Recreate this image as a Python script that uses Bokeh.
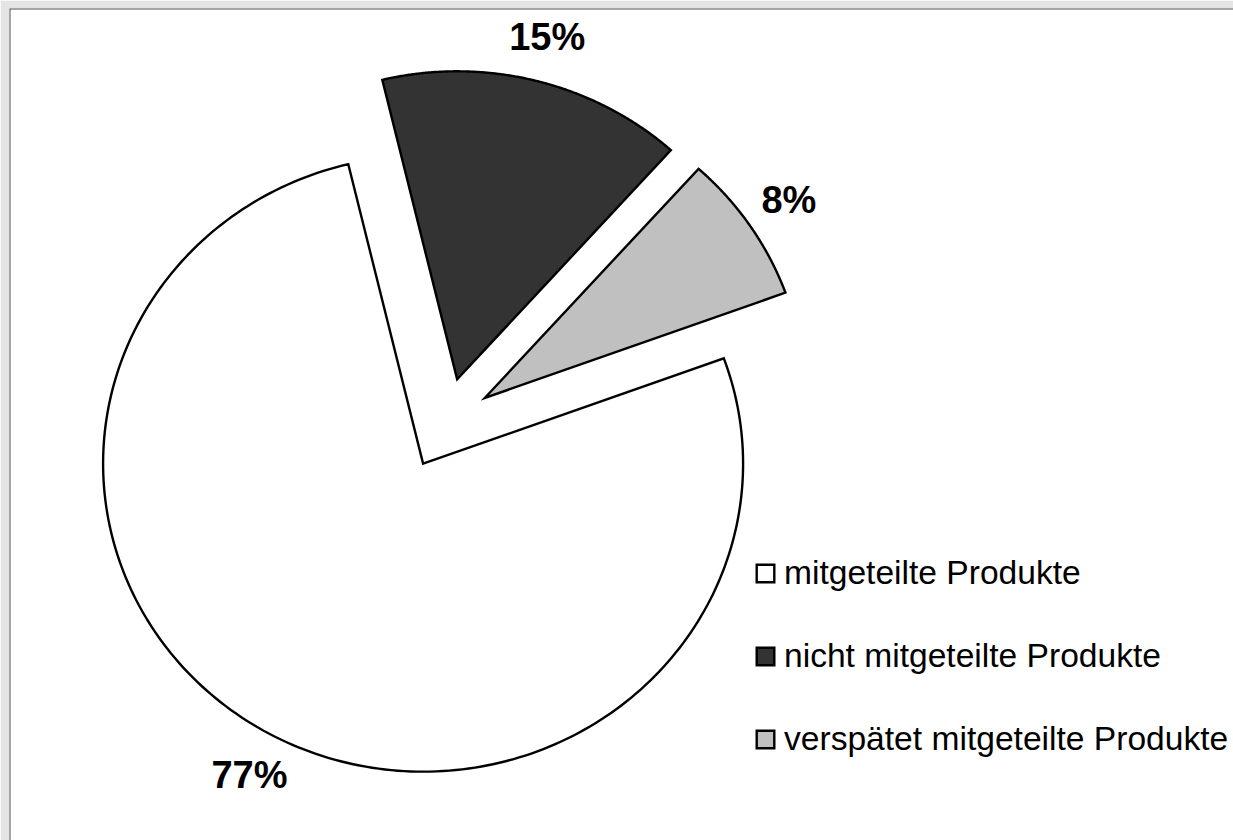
import numpy as np
from bokeh.plotting import figure
from bokeh.models import ColumnDataSource, Range1d, Span
from bokeh.core.properties import value
from bokeh.embed import file_html
from bokeh.resources import INLINE

# ---- data ----
categories = ["mitgeteilte Produkte", "nicht mitgeteilte Produkte", "verspätet mitgeteilte Produkte"]
shares = [76.8, 15.4, 7.8]
label_texts = ["77%", "15%", "8%"]
colors = ["#ffffff", "#333333", "#c0c0c0"]

# ---- layout / style ----
first_slice_angle = 70.0   # degrees clockwise from 12 o'clock (Excel style)
explode = 0.148            # fraction of radius
label_radius = 1.295
W, H = 1233, 840
BL, BT = 9, 8                  # grey margin left / top
FW, FH = W - BL, H - BT        # frame size
cx_px, cy_px = 436.0, 417.0    # pie centre within the frame (px from left / bottom)
rx_px, ry_px = 320.0, 308.0    # pixels per unit radius

p = figure(width=W, height=H, output_backend="svg", toolbar_location=None,
           x_range=Range1d(-cx_px / rx_px, (FW - cx_px) / rx_px),
           y_range=Range1d(-cy_px / ry_px, (FH - cy_px) / ry_px),
           x_axis_location=None, y_axis_location=None,
           min_border_left=BL, min_border_top=BT, min_border_right=0, min_border_bottom=0)
p.grid.visible = False
p.background_fill_color = "#ffffff"
p.border_fill_color = "#e4e4e4"
p.outline_line_color = None

# frame border (left and top only; right/bottom are cut off in the original)
p.add_layout(Span(location=p.x_range.start, dimension="height", line_color="#505050", line_width=2))
p.add_layout(Span(location=p.y_range.end, dimension="width", line_color="#505050", line_width=2))

total = float(sum(shares))
start = 90.0 - first_slice_angle
xs, ys, lx, ly = [], [], [], []
for s in shares:
    a0 = start
    a1 = start - s / total * 360.0
    mid = np.radians((a0 + a1) / 2.0)
    ox, oy = explode * np.cos(mid), explode * np.sin(mid)
    t = np.radians(np.linspace(a0, a1, 240))
    xs.append(np.concatenate([[ox], ox + np.cos(t), [ox]]).tolist())
    ys.append(np.concatenate([[oy], oy + np.sin(t), [oy]]).tolist())
    lx.append(label_radius * np.cos(mid))
    ly.append(label_radius * np.sin(mid))
    start = a1

src = ColumnDataSource(dict(xs=xs, ys=ys, color=colors, label=categories))
p.patches("xs", "ys", source=src, fill_color="color", line_color="#000000",
          line_width=2.4, line_join="miter", legend_field="label")

lsrc = ColumnDataSource(dict(x=lx, y=ly, text=label_texts))
p.text("x", "y", text="text", source=lsrc, text_align="center", text_baseline="middle",
       text_font=value("Liberation Sans"), text_font_style="bold",
       text_font_size="38px", text_color="#000000")

lg = p.legend[0]
lg.location = (745, 82)
lg.padding = 0
lg.margin = 0
lg.spacing = 45
lg.glyph_width = 22
lg.glyph_height = 22
lg.label_standoff = 8
lg.label_text_font = "Liberation Sans"
lg.label_text_font_size = "33.6px"
lg.label_text_color = "#000000"
lg.border_line_color = None
lg.background_fill_alpha = 0

html = file_html(p, INLINE)
open("out.html", "w").write(html)
